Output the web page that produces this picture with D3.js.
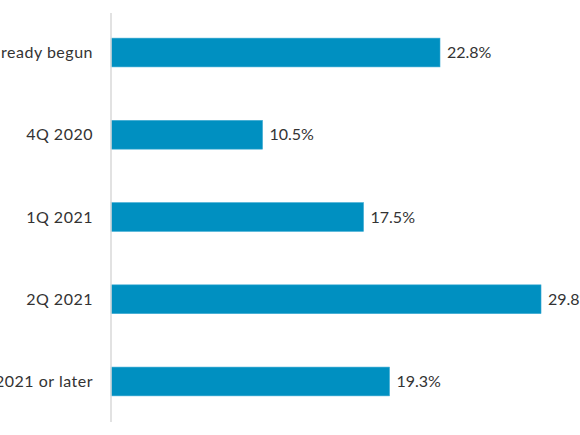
<!DOCTYPE html>
<html>
<head>
<meta charset="utf-8">
<script src="https://cdn.jsdelivr.net/npm/d3@7"></script>
<style>
  body { margin: 0; background: #fff; }
  svg { display: block; font-family: Lato, "Open Sans", sans-serif; }
</style>
</head>
<body>
<div id="chart"></div>
<script>
// Data
const categories = ["Already begun", "4Q 2020", "1Q 2021", "2Q 2021", "3Q 2021 or later"];
const values = [22.8, 10.5, 17.5, 29.8, 19.3];

const W = 580, H = 435;
const x0 = 111;          // axis position
const pxPerPct = 14.43;

const svg = d3.select("#chart").append("svg")
    .attr("width", W)
    .attr("height", H);

const x = d3.scaleLinear()
    .domain([0, 10])
    .range([x0, x0 + 10 * pxPerPct]);

const y = d3.scaleBand()
    .domain(categories)
    .range([11.4, 422.6])
    .paddingInner(0.65)
    .paddingOuter(0.325);

// bars
svg.selectAll(".bar")
    .data(categories)
    .enter().append("rect")
    .attr("class", "bar")
    .attr("x", x(0))
    .attr("y", d => y(d))
    .attr("width", (d, i) => x(values[i]) - x(0))
    .attr("height", y.bandwidth())
    .attr("fill", "#0090c1")
    .attr("stroke", "#3aa9d3")
    .attr("stroke-width", 0.6);

// vertical axis line
svg.append("line")
    .attr("x1", x(0)).attr("x2", x(0))
    .attr("y1", 13).attr("y2", 422)
    .attr("stroke", "#d9d9d9")
    .attr("stroke-width", 1.5);

// category labels
svg.selectAll(".cat")
    .data(categories)
    .enter().append("text")
    .attr("class", "cat")
    .attr("x", 93)
    .attr("y", d => y(d) + y.bandwidth() / 2)
    .attr("dy", ".35em")
    .attr("text-anchor", "end")
    .style("font-size", "16px")
    .style("letter-spacing", "0.5px")
    .style("fill", "#333")
    .text(d => d);

// value labels
svg.selectAll(".val")
    .data(categories)
    .enter().append("text")
    .attr("class", "val")
    .attr("x", (d, i) => x(values[i]) + 7)
    .attr("y", d => y(d) + y.bandwidth() / 2)
    .attr("dy", ".35em")
    .style("font-size", "16px")
    .style("fill", "#333")
    .text((d, i) => values[i].toFixed(1) + "%");
</script>
</body>
</html>
